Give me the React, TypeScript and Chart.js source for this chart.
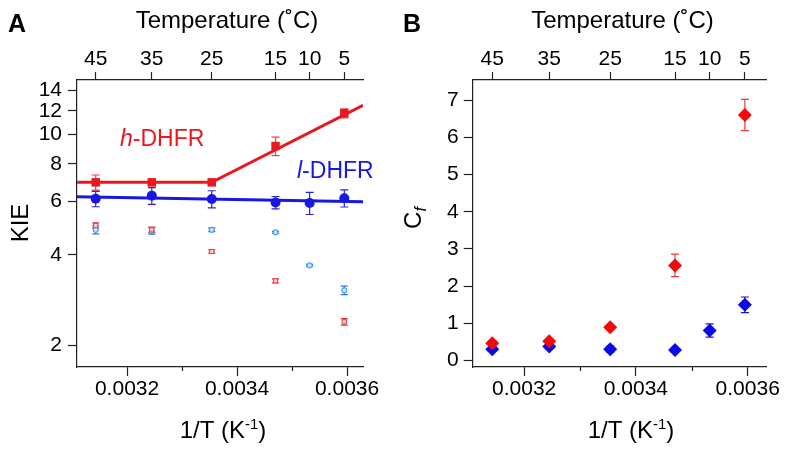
import React, { useEffect, useRef } from 'react';
import { Chart, registerables } from 'chart.js';

Chart.register(...registerables);

// ---------- data ----------
// 1/T (K^-1) for 45, 35, 25, 15, 10, 5 °C
const invT = [0.003143, 0.003245, 0.003354, 0.00347, 0.003532, 0.003595];
const tempLabels = ['45', '35', '25', '15', '10', '5'];

const xTickVals = [0.0032, 0.0034, 0.0036];
const xTickLabels = ['0.0032', '0.0034', '0.0036'];
const xMinorVals = [0.0033, 0.0035];

// Panel A: KIE (log)
const kieTicks = [2, 4, 6, 8, 10, 12, 14];
const hKIE = [6.95, 6.95, 6.95, 9.17, null, 11.77];
const hKIEErr = [0.4, 0.12, 0.12, 0.65, null, 0.4];
const lKIE = [6.13, 6.28, 6.12, 5.96, 5.94, 6.16];
const lKIEErr = [0.36, 0.4, 0.4, 0.28, 0.5, 0.4];
const hSmall = [5.0, 4.84, 4.1, 3.28, null, 2.4];
const hSmallErr = [0.1, 0.1, 0.05, 0.05, null, 0.06];
const lSmall = [4.84, 4.8, 4.84, 4.75, 3.69, 3.05];
const lSmallErr = [0.15, 0.12, 0.07, 0.03, 0.03, 0.1];
const hFitX = [0.003109, 0.003354, 0.003629];
const hFitY = [6.95, 6.95, 12.5];
const lFitX = [0.003109, 0.003629];
const lFitY = [6.23, 6.0];

// Panel B: Cf
const cfTicks = [0, 1, 2, 3, 4, 5, 6, 7];
const hCf = [0.47, 0.52, 0.9, 2.56, null, 6.6];
const hCfErr = [0.07, 0.06, 0.05, 0.3, null, 0.42];
const lCf = [0.31, 0.38, 0.31, 0.29, 0.81, 1.5];
const lCfErr = [0.06, 0.07, 0.08, 0.04, 0.18, 0.21];

// ---------- styling ----------
const FONT = '"Liberation Sans", Arial, Helvetica, sans-serif';
const RED = 'rgb(234,24,30)';
const BLUE = 'rgb(24,24,226)';
const AXIS = '#222';
const TICK_SIZE = 21;

type Seg = { t: string; font: string; dy?: number };
type Label = { segs: Seg[]; x: number; y: number; align: 'left' | 'center'; color: string; rot?: number };

function drawRich(ctx: CanvasRenderingContext2D, l: Label) {
  ctx.save();
  ctx.translate(l.x, l.y);
  if (l.rot) ctx.rotate(l.rot);
  ctx.fillStyle = l.color;
  ctx.textBaseline = 'alphabetic';
  ctx.textAlign = 'left';
  let total = 0;
  for (const s of l.segs) {
    ctx.font = s.font;
    total += ctx.measureText(s.t).width;
  }
  let cx = l.align === 'center' ? -total / 2 : 0;
  for (const s of l.segs) {
    ctx.font = s.font;
    ctx.fillText(s.t, cx, s.dy || 0);
    cx += ctx.measureText(s.t).width;
  }
  ctx.restore();
}

function pts(xs: number[], ys: (number | null)[], errs?: (number | null)[]) {
  const data: { x: number; y: number }[] = [];
  const lo: number[] = [];
  const hi: number[] = [];
  xs.forEach((x, i) => {
    const y = ys[i];
    if (y == null) return;
    data.push({ x, y });
    const e = errs ? errs[i] || 0 : 0;
    lo.push(y - e);
    hi.push(y + e);
  });
  return { data, lo, hi };
}

const errorBarPlugin = {
  id: 'errbars',
  beforeDatasetsDraw(chart: any) {
    const ctx = chart.ctx as CanvasRenderingContext2D;
    chart.data.datasets.forEach((ds: any, i: number) => {
      if (!ds.errLo) return;
      const meta = chart.getDatasetMeta(i);
      const xs = chart.scales[meta.xAxisID];
      const ys = chart.scales[meta.yAxisID];
      ctx.save();
      ctx.strokeStyle = ds.errColor;
      ctx.lineWidth = ds.errWidth || 1.2;
      ds.data.forEach((p: any, j: number) => {
        const px = xs.getPixelForValue(p.x);
        const y1 = ys.getPixelForValue(ds.errLo[j]);
        const y2 = ys.getPixelForValue(ds.errHi[j]);
        const c = ds.capHalf;
        ctx.beginPath();
        ctx.moveTo(px, y1);
        ctx.lineTo(px, y2);
        ctx.moveTo(px - c, y1);
        ctx.lineTo(px + c, y1);
        ctx.moveTo(px - c, y2);
        ctx.lineTo(px + c, y2);
        ctx.stroke();
      });
      ctx.restore();
    });
  },
};

function makeExtras(labels: Label[]) {
  return {
    id: 'extras',
    afterDraw(chart: any) {
      const ctx = chart.ctx as CanvasRenderingContext2D;
      const xs = chart.scales.x;
      ctx.save();
      ctx.strokeStyle = AXIS;
      ctx.lineWidth = 1.2;
      for (const v of xMinorVals) {
        const px = Math.round(xs.getPixelForValue(v)) + 0.5;
        ctx.beginPath();
        ctx.moveTo(px, xs.top);
        ctx.lineTo(px, xs.top + 4);
        ctx.stroke();
      }
      ctx.restore();
      labels.forEach((l) => drawRich(ctx, l));
    },
  };
}

function xScales(xMin: number, xMax: number) {
  const tickFont = { family: FONT, size: TICK_SIZE };
  return {
    x: {
      type: 'linear',
      position: 'bottom',
      min: xMin,
      max: xMax,
      bounds: 'data',
      afterFit: (s: any) => {
        s.height = 84;
      },
      afterBuildTicks: (s: any) => {
        s.ticks = xTickVals.map((v) => ({ value: v }));
      },
      ticks: {
        callback: (_v: any, i: number) => xTickLabels[i],
        font: tickFont,
        color: '#000',
        padding: 1,
        maxRotation: 0,
        autoSkip: false,
      },
      grid: { drawOnChartArea: false, tickLength: 9, tickColor: AXIS, tickWidth: 1.2 },
      border: { color: AXIS, width: 1.2 },
    },
    xTop: {
      type: 'linear',
      position: 'top',
      min: xMin,
      max: xMax,
      bounds: 'data',
      afterFit: (s: any) => {
        s.height = 80;
      },
      afterBuildTicks: (s: any) => {
        s.ticks = invT.map((v) => ({ value: v }));
      },
      ticks: {
        callback: (_v: any, i: number) => tempLabels[i],
        font: tickFont,
        color: '#000',
        padding: 0,
        maxRotation: 0,
        autoSkip: false,
      },
      grid: { drawOnChartArea: false, tickLength: 8, tickColor: AXIS, tickWidth: 1.2 },
      border: { color: AXIS, width: 1.2 },
    },
  };
}

const titleFont = `24px ${FONT}`;
const supFont = `15px ${FONT}`;

function invTLabel(cx: number): Label {
  return {
    segs: [
      { t: '1/T (K', font: titleFont },
      { t: '-1', font: supFont, dy: -9 },
      { t: ')', font: titleFont },
    ],
    x: cx,
    y: 438,
    align: 'center',
    color: '#000',
  };
}

function buildA(canvas: HTMLCanvasElement) {
  const h = pts(invT, hKIE, hKIEErr);
  const l = pts(invT, lKIE, lKIEErr);
  const hs = pts(invT, hSmall, hSmallErr);
  const ls = pts(invT, lSmall, lSmallErr);
  const hf = pts(hFitX, hFitY);
  const lf = pts(lFitX, lFitY);
  const labels: Label[] = [
    { segs: [{ t: 'A', font: `bold 25px ${FONT}` }], x: 8, y: 32, align: 'left', color: '#000' },
    { segs: [{ t: 'Temperature (˚C)', font: titleFont }], x: 227, y: 28, align: 'center', color: '#000' },
    { segs: [{ t: 'KIE', font: titleFont }], x: 28, y: 223, align: 'center', color: '#000', rot: -Math.PI / 2 },
    invTLabel(223),
    {
      segs: [
        { t: 'h', font: `italic 23px ${FONT}` },
        { t: '-DHFR', font: `23px ${FONT}` },
      ],
      x: 120,
      y: 146,
      align: 'left',
      color: RED,
    },
    {
      segs: [
        { t: 'l', font: `italic 23px ${FONT}` },
        { t: '-DHFR', font: `23px ${FONT}` },
      ],
      x: 297,
      y: 178,
      align: 'left',
      color: BLUE,
    },
  ];
  return new Chart(canvas, {
    type: 'scatter',
    data: {
      datasets: [
        {
          label: 'h-DHFR',
          data: h.data,
          errLo: h.lo,
          errHi: h.hi,
          errColor: 'rgb(230,70,70)',
          capHalf: 4,
          pointStyle: 'rect',
          pointRadius: 6,
          backgroundColor: RED,
          borderColor: RED,
          borderWidth: 0,
        },
        {
          label: 'l-DHFR',
          data: l.data,
          errLo: l.lo,
          errHi: l.hi,
          errColor: 'rgb(40,40,200)',
          capHalf: 4,
          pointStyle: 'circle',
          pointRadius: 5,
          backgroundColor: BLUE,
          borderColor: BLUE,
          borderWidth: 0,
        },
        {
          label: 'h small',
          data: hs.data,
          errLo: hs.lo,
          errHi: hs.hi,
          errColor: 'rgb(225,50,60)',
          capHalf: 3.5,
          pointStyle: 'rect',
          pointRadius: 3,
          backgroundColor: 'rgb(250,205,205)',
          borderColor: 'rgb(230,60,70)',
          borderWidth: 1,
        },
        {
          label: 'l small',
          data: ls.data,
          errLo: ls.lo,
          errHi: ls.hi,
          errColor: 'rgb(30,120,235)',
          capHalf: 3.5,
          pointStyle: 'circle',
          pointRadius: 2.6,
          backgroundColor: 'rgb(190,225,255)',
          borderColor: 'rgb(40,140,240)',
          borderWidth: 1,
        },
        {
          label: 'h fit',
          data: hf.data,
          showLine: true,
          borderColor: RED,
          borderWidth: 3,
          pointRadius: 0,
        },
        {
          label: 'l fit',
          data: lf.data,
          showLine: true,
          borderColor: BLUE,
          borderWidth: 3,
          pointRadius: 0,
        },
      ] as any,
    },
    options: {
      responsive: false,
      animation: false,
      layout: { padding: { left: 0, right: 31, top: 0, bottom: 0 } },
      plugins: { legend: { display: false }, tooltip: { enabled: false } },
      scales: {
        ...xScales(0.003109, 0.003629),
        y: {
          type: 'logarithmic',
          position: 'left',
          min: 1.7,
          max: 15.17,
          bounds: 'data',
          afterFit: (s: any) => {
            s.width = 77;
          },
          afterBuildTicks: (s: any) => {
            s.ticks = kieTicks.map((v) => ({ value: v }));
          },
          ticks: {
            callback: (v: any) => String(v),
            font: { family: FONT, size: TICK_SIZE },
            color: '#000',
            padding: 6,
            autoSkip: false,
          },
          grid: { drawOnChartArea: false, tickLength: 9, tickColor: AXIS, tickWidth: 1.2 },
          border: { color: AXIS, width: 1.2 },
        },
      } as any,
    },
    plugins: [errorBarPlugin, makeExtras(labels)],
  } as any);
}

function buildB(canvas: HTMLCanvasElement) {
  const h = pts(invT, hCf, hCfErr);
  const l = pts(invT, lCf, lCfErr);
  const labels: Label[] = [
    { segs: [{ t: 'B', font: `bold 25px ${FONT}` }], x: 9, y: 32, align: 'left', color: '#000' },
    { segs: [{ t: 'Temperature (˚C)', font: titleFont }], x: 228.5, y: 28, align: 'center', color: '#000' },
    {
      segs: [
        { t: 'C', font: titleFont },
        { t: 'f', font: `italic 16px ${FONT}`, dy: 5 },
      ],
      x: 27,
      y: 218,
      align: 'center',
      color: '#000',
      rot: -Math.PI / 2,
    },
    invTLabel(237),
  ];
  return new Chart(canvas, {
    type: 'scatter',
    data: {
      datasets: [
        {
          label: 'h-DHFR',
          data: h.data,
          errLo: h.lo,
          errHi: h.hi,
          errColor: 'rgb(230,60,60)',
          capHalf: 4,
          pointStyle: 'rectRot',
          pointRadius: 7,
          backgroundColor: 'rgb(240,10,10)',
          borderColor: 'rgb(240,10,10)',
          borderWidth: 0,
        },
        {
          label: 'l-DHFR',
          data: l.data,
          errLo: l.lo,
          errHi: l.hi,
          errColor: 'rgb(20,20,210)',
          capHalf: 4,
          pointStyle: 'rectRot',
          pointRadius: 7,
          backgroundColor: 'rgb(10,10,232)',
          borderColor: 'rgb(10,10,232)',
          borderWidth: 0,
        },
      ] as any,
    },
    options: {
      responsive: false,
      animation: false,
      layout: { padding: { left: 0, right: 21.3, top: 0, bottom: 0 } },
      plugins: { legend: { display: false }, tooltip: { enabled: false } },
      scales: {
        ...xScales(0.003108, 0.003634),
        y: {
          type: 'linear',
          position: 'left',
          min: -0.17,
          max: 7.54,
          bounds: 'data',
          afterFit: (s: any) => {
            s.width = 78.7;
          },
          afterBuildTicks: (s: any) => {
            s.ticks = cfTicks.map((v) => ({ value: v }));
          },
          ticks: {
            callback: (v: any) => String(v),
            font: { family: FONT, size: TICK_SIZE },
            color: '#000',
            padding: 5,
            autoSkip: false,
          },
          grid: { drawOnChartArea: false, tickLength: 9, tickColor: AXIS, tickWidth: 1.2 },
          border: { color: AXIS, width: 1.2 },
        },
      } as any,
    },
    plugins: [errorBarPlugin, makeExtras(labels)],
  } as any);
}

export default function App() {
  const aRef = useRef<HTMLCanvasElement>(null);
  const bRef = useRef<HTMLCanvasElement>(null);
  useEffect(() => {
    const a = buildA(aRef.current!);
    const b = buildB(bRef.current!);
    return () => {
      a.destroy();
      b.destroy();
    };
  }, []);
  return (
    <div style={{ position: 'absolute', left: 0, top: 0, width: 788, height: 451, background: '#fff', overflow: 'hidden' }}>
      <canvas ref={aRef} width={394} height={451} style={{ position: 'absolute', left: 0, top: 0 }} />
      <canvas ref={bRef} width={394} height={451} style={{ position: 'absolute', left: 394, top: 0 }} />
    </div>
  );
}
